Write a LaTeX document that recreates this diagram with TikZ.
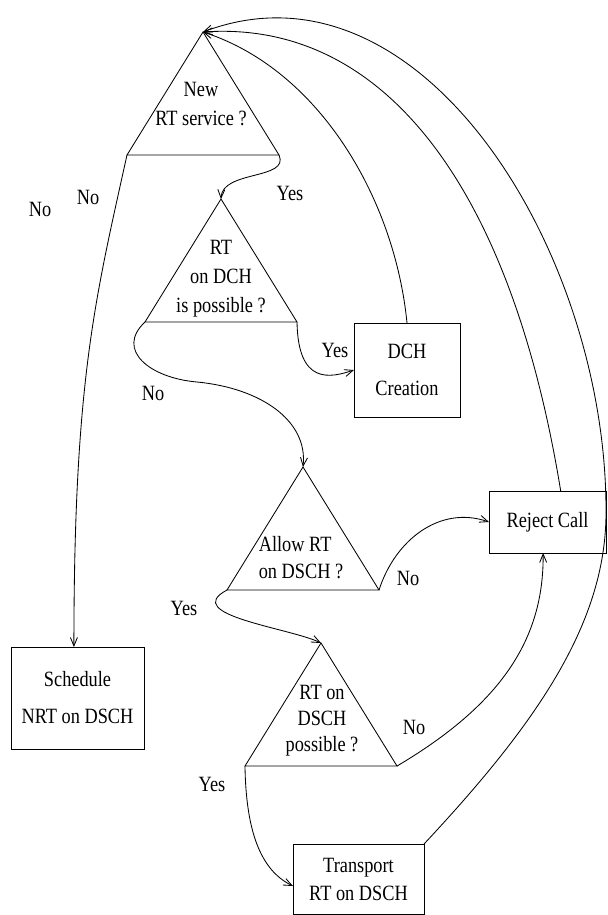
\documentclass[tikz,border=0pt]{standalone}
\usepackage{fontspec}
\setmainfont{Liberation Serif}[FakeStretch=0.84]
\usetikzlibrary{arrows.meta,shapes.geometric}
\begin{document}
\begin{tikzpicture}[x=0.025cm,y=-0.025cm,line width=0.6pt,
                    font=\fontsize{15.5}{18.6}\selectfont,
                    >={Straight Barb[length=6pt,width=5pt]},
                    decision/.style={draw,isosceles triangle,shape border rotate=90,
                      isosceles triangle stretches,minimum width=3.8cm,minimum height=3.075cm,
                      inner sep=0pt,outer sep=0pt},
                    action/.style={draw,inner sep=0pt,outer sep=0pt,align=center}]
                    \useasboundingbox (0,0) rectangle (607,915);
                    \tikzstyle{every node}+=[inner sep=0pt]
                    \node [decision,anchor=apex] (q1) at (203,32) {};
                    \node [align=center] (q1txt) at (201,104) {New\\[2pt]RT service ?};
                    \node [decision,anchor=apex] (q2) at (221,199) {};
                    \node [align=center] (q2txt) at (221,279) {RT\\[2pt]on DCH\\[2pt]is possible ?};
                    \node [decision,anchor=apex] (q3) at (303,467) {};
                    \node [align=left] (q3txt) at (301,558) {Allow RT\\[0.6pt]on DSCH ?};
                    \node [decision,anchor=apex] (q4) at (321,643) {};
                    \node [align=center] (q4txt) at (322,721) {RT on\\DSCH\\possible ?};
                    \node [action,minimum width=2.65cm,minimum height=2.35cm] (dch) at (407,370) {DCH\\[7.7pt]Creation};
                    \node [action,minimum width=2.925cm,minimum height=1.55cm] (rej) at (547.5,522) {Reject Call};
                    \node [action,minimum width=3.325cm,minimum height=2.55cm] (sched) at (77.5,698) {Schedule\\[7.7pt]NRT on DSCH};
                    \node [action,minimum width=3.275cm,minimum height=1.75cm] (trans) at (358.5,879) {Transport\\[1.3pt]RT on DSCH};
                    \node (no1) at (40,209) {No};
                    \node (no2) at (88,197) {No};
                    \node (yes1) at (290,193) {Yes};
                    \node (yes2) at (335,350) {Yes};
                    \node (no3) at (153,393) {No};
                    \node (no4) at (408,578) {No};
                    \node (yes3) at (184,608) {Yes};
                    \node (no5) at (414,727) {No};
                    \node (yes4) at (212,784) {Yes};
                    \draw [->] (q1.left corner) .. controls (95,300) and (74,380) .. ([xshift=-0.09cm]sched.north);
                    \draw [->] (q1.right corner) .. controls (290,180) and (222,170) .. (q2.apex);
                    \draw [->] (q2.right corner) .. controls (298,385) and (330,378) .. (dch.west);
                    \draw [->] (q2.left corner) .. controls (115,350) and (150,378) .. (197,382)
                                                .. controls (260,388) and (308,420) .. (q3.apex);
                    \draw [->] (q3.right corner) .. controls (395,540) and (440,505) .. (rej.west);
                    \draw [->] (q3.left corner) .. controls (180,615) and (290,628) .. (q4.apex);
                    \draw [->] (q4.left corner) .. controls (246,830) and (260,870) .. ([yshift=-0.175cm]trans.west);
                    \draw [->] (q4.right corner) .. controls (500,705) and (544,640) .. ([xshift=-0.11cm]rej.south);
                    \draw [->] (dch.north) .. controls (395,200) and (320,70) .. (q1.apex);
                    \draw [->] ([xshift=0.33cm]rej.north) .. controls (510,180) and (380,20) .. (q1.apex);
                    \draw [->] (trans.north east) .. controls (540,720) and (607,620) .. (606,510)
                                                  .. controls (606,250) and (420,-50) .. (q1.apex);
\end{tikzpicture}
\end{document}
